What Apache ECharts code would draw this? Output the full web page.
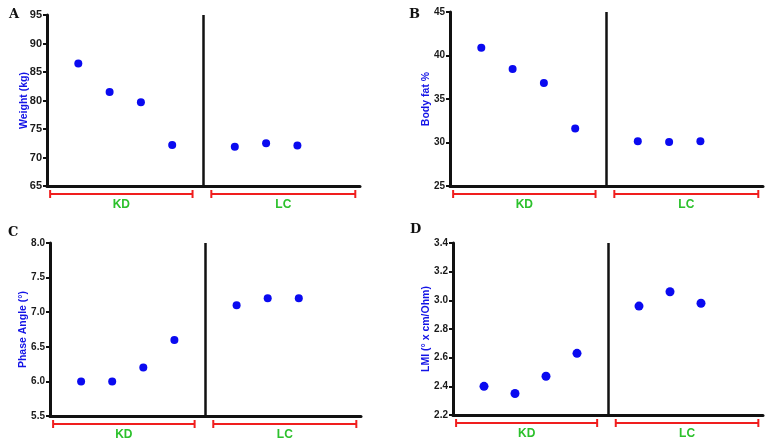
<!DOCTYPE html>
<html lang="en">
<head>
    <meta charset="UTF-8">
    <title>KD vs LC body composition</title>
    <script src="https://cdn.jsdelivr.net/npm/echarts/dist/echarts.min.js"></script>
    <style>
        html, body { margin: 0; padding: 0; background: #fff; }
        #chart-container { width: 767px; height: 444px; }
    </style>
</head>
<body>
    <div id="chart-container"></div>
    <script>
        // x positions of the subjects, group split in the middle
        var kdPos = [1, 2, 3, 4];
        var lcPos = [6, 7, 8];
        var dividerPos = 5;
        var groups = ['KD', 'LC'];
        var groupSpans = [[0.1, 4.65], [5.25, 9.85]];

        // values
        var weightKD = [86.5, 81.5, 79.7, 72.2];
        var weightLC = [71.9, 72.5, 72.1];
        var fatKD = [40.9, 38.45, 36.85, 31.6];
        var fatLC = [30.15, 30.05, 30.15];
        var phaseKD = [6.0, 6.0, 6.2, 6.6];
        var phaseLC = [7.1, 7.2, 7.2];
        var lmiKD = [2.40, 2.35, 2.47, 2.63];
        var lmiLC = [2.96, 3.06, 2.98];

        var panels = [
            { letter: 'A', name: 'Weight (kg)', kd: weightKD, lc: weightLC, min: 65, max: 95, step: 5, dec: 0,
              grid: { left: 47, top: 15, width: 313, height: 171 }, nameGap: 17, font: 11, dot: 8, lx: 4, ly: 3 },
            { letter: 'B', name: 'Body fat %', kd: fatKD, lc: fatLC, min: 25, max: 45, step: 5, dec: 0,
              grid: { left: 450, top: 12, width: 313, height: 174 }, nameGap: 18, font: 10, dot: 8, lx: 404, ly: 3 },
            { letter: 'C', name: 'Phase Angle (°)', kd: phaseKD, lc: phaseLC, min: 5.5, max: 8.0, step: 0.5, dec: 1,
              grid: { left: 50, top: 243, width: 311, height: 173 }, nameGap: 21, font: 10, dot: 8, lx: 3, ly: 221 },
            { letter: 'D', name: 'LMI (° x cm/Ohm)', kd: lmiKD, lc: lmiLC, min: 2.2, max: 3.4, step: 0.2, dec: 1,
              grid: { left: 453, top: 243, width: 310, height: 172 }, nameGap: 21, font: 10, dot: 9, lx: 405, ly: 218 }
        ];

        var myChart = echarts.init(document.getElementById('chart-container'));

        var title = [], grid = [], xAxis = [], yAxis = [], series = [];

        panels.forEach(function (p, i) {
            title.push({
                text: p.letter, left: p.lx, top: p.ly,
                textStyle: { fontFamily: 'DejaVu Serif', fontWeight: 'bold', fontSize: 13, color: '#111' }
            });
            grid.push(p.grid);
            xAxis.push({
                gridIndex: i, type: 'value', min: 0, max: 10,
                axisLine: { onZero: false, lineStyle: { color: '#111', width: 3 } },
                axisTick: { show: false }, axisLabel: { show: false }, splitLine: { show: false }
            });
            yAxis.push({
                gridIndex: i, type: 'value', min: p.min, max: p.max, interval: p.step,
                name: p.name, nameLocation: 'middle', nameGap: p.nameGap, nameMoveOverlap: false,
                nameTextStyle: { color: '#1414e6', fontWeight: 'bold', fontSize: 10.5, fontFamily: 'Liberation Sans' },
                axisLine: { show: true, onZero: false, lineStyle: { color: '#111', width: 3 } },
                axisTick: { show: true, length: 4, lineStyle: { color: '#111', width: 2 } },
                axisLabel: {
                    margin: 5, color: '#1a1a1a', fontWeight: 'bold', fontSize: p.font, fontFamily: 'Liberation Sans',
                    formatter: function (v) { return v.toFixed(p.dec); }
                },
                splitLine: { show: false }
            });

            series.push({
                type: 'scatter', xAxisIndex: i, yAxisIndex: i,
                symbolSize: p.dot, itemStyle: { color: '#0a0af0', opacity: 1 },
                data: kdPos.map(function (x, k) { return [x, p.kd[k]]; })
            });
            series.push({
                type: 'scatter', xAxisIndex: i, yAxisIndex: i,
                symbolSize: p.dot, itemStyle: { color: '#0a0af0', opacity: 1 },
                data: lcPos.map(function (x, k) { return [x, p.lc[k]]; }),
                markLine: {
                    silent: true, symbol: 'none', label: { show: false },
                    lineStyle: { color: '#111', width: 2.5, type: 'solid' },
                    data: [{ xAxis: dividerPos }]
                }
            });
            // red group brackets with green labels under the x axis
            series.push({
                type: 'custom', xAxisIndex: i, yAxisIndex: i, clip: false, silent: true,
                encode: { x: [0, 1] },
                data: groupSpans,
                renderItem: function (params, api) {
                    var cs = params.coordSys;
                    var base = cs.y + cs.height;
                    var x1 = api.coord([api.value(0), p.min])[0];
                    var x2 = api.coord([api.value(1), p.min])[0];
                    var yb = base + 8;
                    var red = { stroke: '#f01e1e', lineWidth: 2 };
                    return {
                        type: 'group',
                        children: [
                            { type: 'line', shape: { x1: x1, y1: yb, x2: x2, y2: yb }, style: red },
                            { type: 'line', shape: { x1: x1, y1: yb - 4, x2: x1, y2: yb + 4 }, style: red },
                            { type: 'line', shape: { x1: x2, y1: yb - 4, x2: x2, y2: yb + 4 }, style: red },
                            {
                                type: 'text',
                                style: {
                                    text: groups[params.dataIndex], x: (x1 + x2) / 2, y: base + 19,
                                    align: 'center', verticalAlign: 'middle',
                                    fill: '#2cc12c', font: 'bold 12px "Liberation Sans"'
                                }
                            }
                        ]
                    };
                }
            });
        });

        myChart.setOption({
            animation: false,
            title: title,
            grid: grid,
            xAxis: xAxis,
            yAxis: yAxis,
            series: series
        });

        window.addEventListener('resize', function () {
            myChart.resize();
        });
    </script>
</body>
</html>
